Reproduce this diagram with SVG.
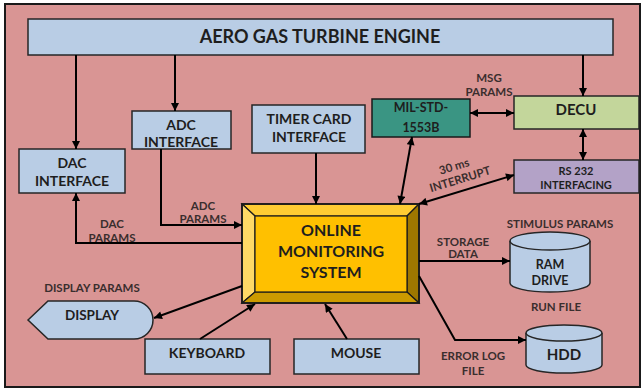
<svg xmlns="http://www.w3.org/2000/svg" width="642" height="389" viewBox="0 0 642 389">
<defs>
<style>
text{font-family:Lato,"Liberation Sans",sans-serif;font-weight:bold;text-anchor:middle;fill:#1e1e1e}
.box{fill:#B9CDE5;stroke:#262626;stroke-width:1.5}
.lbl{font-size:11.5px;fill:#3a2e2e}
.c{fill:none;stroke:#000;stroke-width:2}
</style>
<marker id="ah" viewBox="0 0 10 10" refX="10" refY="5" markerWidth="9" markerHeight="8" markerUnits="userSpaceOnUse" orient="auto-start-reverse">
<path d="M0,0 L10,5 L0,10 z" fill="#000"/>
</marker>
</defs>
<rect x="5" y="4" width="635" height="383" fill="#D99594" stroke="#1a1a1a" stroke-width="2"/>

<g id="engine">
<rect class="box" x="28" y="19" width="585" height="36"/>
<text x="320" y="43" font-size="18">AERO GAS TURBINE ENGINE</text>
</g>
<g id="dac">
<rect class="box" x="19" y="149" width="106" height="44"/>
<text x="72" y="168" font-size="14">DAC</text>
<text x="72" y="186" font-size="14">INTERFACE</text>
</g>
<g id="adc">
<rect class="box" x="132" y="111" width="99" height="38"/>
<text x="181" y="130" font-size="14">ADC</text>
<text x="181" y="147" font-size="14">INTERFACE</text>
</g>
<g id="timer">
<rect class="box" x="252" y="105" width="113" height="48"/>
<text x="309" y="124" font-size="14">TIMER CARD</text>
<text x="309" y="142" font-size="14">INTERFACE</text>
</g>
<g id="milstd">
<rect x="372" y="99" width="98" height="38" fill="#3A9583" stroke="#1a1a1a" stroke-width="1.5"/>
<text x="421" y="112" font-size="12.5">MIL-STD-</text>
<text x="421" y="132" font-size="12.5">1553B</text>
</g>
<g id="decu">
<rect x="514" y="96" width="125" height="33" fill="#C3D69B" stroke="#262626" stroke-width="1.5"/>
<text x="576" y="115" font-size="15">DECU</text>
</g>
<g id="rs232">
<rect x="514" y="160" width="125" height="33" fill="#B3A2C7" stroke="#262626" stroke-width="1.5"/>
<text x="576" y="175" font-size="11">RS 232</text>
<text x="576" y="189" font-size="11">INTERFACING</text>
</g>
<g id="oms">
<polygon points="242,204 419,204 407,216 255,216" fill="#FFCC33" stroke="#1a1a1a" stroke-width="1.2"/>
<polygon points="242,204 255,216 255,292 242,303" fill="#FFD966" stroke="#1a1a1a" stroke-width="1.2"/>
<polygon points="419,204 419,303 407,292 407,216" fill="#9E7700" stroke="#1a1a1a" stroke-width="1.2"/>
<polygon points="242,303 419,303 407,292 255,292" fill="#CC9A00" stroke="#1a1a1a" stroke-width="1.2"/>
<rect x="255" y="216" width="152" height="76" fill="#FFC000" stroke="#1a1a1a" stroke-width="1.2"/>
<rect x="242" y="204" width="177" height="99" fill="none" stroke="#1a1a1a" stroke-width="1.8"/>
<text x="331" y="236" font-size="16">ONLINE</text>
<text x="331" y="257" font-size="16">MONITORING</text>
<text x="331" y="278" font-size="16">SYSTEM</text>
</g>
<g id="display">
<path d="M28,320 L48,301 L134,301 A19,19 0 0 1 134,339 L48,339 Z" fill="#B9CDE5" stroke="#262626" stroke-width="1.5"/>
<text x="92" y="320" font-size="13.5">DISPLAY</text>
</g>
<g id="keyboard">
<rect class="box" x="145" y="339" width="125" height="35"/>
<text x="207" y="358" font-size="14">KEYBOARD</text>
</g>
<g id="mouse">
<rect class="box" x="294" y="339" width="125" height="35"/>
<text x="356" y="358" font-size="14">MOUSE</text>
</g>
<g id="ram">
<path d="M510,241 L510,283 A40,9 0 0 0 590,283 L590,241" fill="#B9CDE5" stroke="#262626" stroke-width="1.5"/>
<ellipse cx="550" cy="241" rx="40" ry="9" fill="#B9CDE5" stroke="#262626" stroke-width="1.5"/>
<text x="550" y="269" font-size="12.5">RAM</text>
<text x="550" y="285" font-size="12.5">DRIVE</text>
</g>
<g id="hdd">
<path d="M526,333 L526,365 A38,8 0 0 0 602,365 L602,333" fill="#B9CDE5" stroke="#262626" stroke-width="1.5"/>
<ellipse cx="564" cy="333" rx="38" ry="8" fill="#B9CDE5" stroke="#262626" stroke-width="1.5"/>
<text x="564" y="360" font-size="15">HDD</text>
</g>

<g id="connectors">
<path class="c" d="M76,55 V149" marker-end="url(#ah)"/>
<path class="c" d="M175,55 V111" marker-end="url(#ah)"/>
<path class="c" d="M583,55 V96" marker-end="url(#ah)"/>
<path class="c" d="M161,149 V225 H242" marker-end="url(#ah)"/>
<path class="c" d="M242,243 H76 V193" marker-end="url(#ah)"/>
<path class="c" d="M316,153 V204" marker-end="url(#ah)"/>
<path class="c" d="M412,137 L400,204" marker-start="url(#ah)" marker-end="url(#ah)"/>
<path class="c" d="M470,113 H514" marker-start="url(#ah)" marker-end="url(#ah)"/>
<path class="c" d="M583,129 V160" marker-start="url(#ah)" marker-end="url(#ah)"/>
<path class="c" d="M514,175 L419,204" marker-start="url(#ah)" marker-end="url(#ah)"/>
<path class="c" d="M419,261 H510" marker-end="url(#ah)"/>
<path class="c" d="M419,276 L455,340 H526" marker-end="url(#ah)"/>
<path class="c" d="M242,286 L154,318" marker-end="url(#ah)"/>
<path class="c" d="M200,339 L255,304" marker-end="url(#ah)"/>
<path class="c" d="M347,339 L325,304" marker-end="url(#ah)"/>
</g>

<g id="labels">
<text class="lbl" x="489" y="82">MSG</text>
<text class="lbl" x="489" y="96">PARAMS</text>
<g transform="translate(457,176) rotate(-17)">
<text class="lbl" x="0" y="-6">30 ms</text>
<text class="lbl" x="2" y="8">INTERRUPT</text>
</g>
<text class="lbl" x="203" y="210">ADC</text>
<text class="lbl" x="203" y="223">PARAMS</text>
<text class="lbl" x="112" y="228">DAC</text>
<text class="lbl" x="112" y="242">PARAMS</text>
<text class="lbl" x="92" y="292">DISPLAY PARAMS</text>
<text class="lbl" x="560" y="228">STIMULUS PARAMS</text>
<text class="lbl" x="463" y="246">STORAGE</text>
<text class="lbl" x="463" y="258">DATA</text>
<text class="lbl" x="556" y="311">RUN FILE</text>
<text class="lbl" x="473" y="360">ERROR LOG</text>
<text class="lbl" x="473" y="375">FILE</text>
</g>
</svg>
